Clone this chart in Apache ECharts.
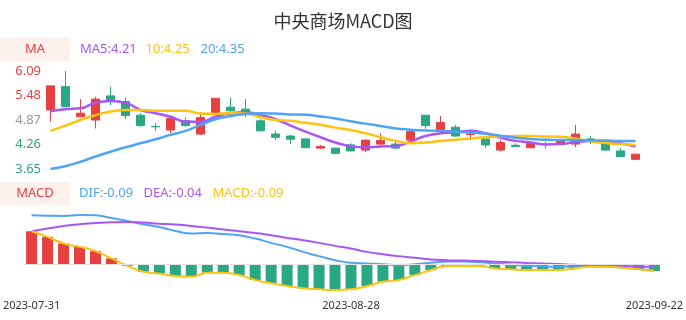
<!DOCTYPE html>
<html>
<head>
<meta charset="utf-8">
<script src="https://cdn.jsdelivr.net/npm/echarts@6/dist/echarts.min.js"></script>
<style>
html,body{margin:0;padding:0;background:#fff;}
#c{width:686px;height:320px;}
</style>
</head>
<body>
<div id="c"></div>
<script>
var dates = ['2023-07-31','2023-08-01','2023-08-02','2023-08-03','2023-08-04','2023-08-07','2023-08-08','2023-08-09','2023-08-10','2023-08-11',
 '2023-08-14','2023-08-15','2023-08-16','2023-08-17','2023-08-18','2023-08-21','2023-08-22','2023-08-23','2023-08-24','2023-08-25',
 '2023-08-28','2023-08-29','2023-08-30','2023-08-31','2023-09-01','2023-09-04','2023-09-05','2023-09-06','2023-09-07','2023-09-08',
 '2023-09-11','2023-09-12','2023-09-13','2023-09-14','2023-09-15','2023-09-18','2023-09-19','2023-09-20','2023-09-21','2023-09-22'];
var opens  = [5.12,5.70,4.95,4.87,5.47,5.33,4.99,4.71,4.62,4.85,4.52,5.04,5.19,5.14,4.85,4.52,4.47,4.40,4.17,4.17,4.25,4.12,4.27,4.27,4.37,4.99,4.62,4.69,4.51,4.40,4.12,4.24,4.18,4.27,4.29,4.27,4.40,4.27,4.10,3.89];
var closes = [5.72,5.20,5.04,5.39,5.33,4.98,4.73,4.70,4.91,4.73,4.93,5.41,5.10,5.04,4.60,4.44,4.39,4.18,4.21,4.04,4.10,4.37,4.36,4.17,4.58,4.73,4.81,4.47,4.52,4.25,4.31,4.21,4.30,4.26,4.35,4.52,4.35,4.12,3.96,4.02];
var lows   = [4.83,5.19,4.94,4.66,5.24,4.89,4.70,4.60,4.54,4.71,4.50,4.99,4.94,4.94,4.59,4.37,4.27,4.17,4.15,4.03,4.09,4.07,4.25,4.14,4.33,4.65,4.58,4.46,4.37,4.18,4.08,4.20,4.17,4.16,4.28,4.19,4.27,4.11,3.95,3.87];
var highs  = [5.72,6.09,5.39,5.45,5.70,5.43,5.04,4.79,4.99,4.93,5.06,5.41,5.43,5.39,4.89,4.60,4.50,4.40,4.25,4.17,4.29,4.38,4.54,4.33,4.58,4.99,4.97,4.74,4.60,4.40,4.37,4.29,4.31,4.33,4.38,4.75,4.47,4.27,4.17,4.03];
var ma5  = [5.09,5.14,5.16,5.30,5.34,5.30,5.12,5.04,4.95,4.83,4.82,4.95,5.04,5.06,4.99,4.89,4.73,4.58,4.44,4.31,4.22,4.19,4.21,4.22,4.33,4.47,4.54,4.56,4.60,4.54,4.43,4.35,4.31,4.26,4.27,4.32,4.35,4.33,4.29,4.21];
var ma10 = [4.60,4.73,4.87,4.99,5.08,5.12,5.12,5.10,5.10,5.10,5.03,5.02,5.04,5.03,4.94,4.87,4.85,4.80,4.75,4.68,4.62,4.54,4.44,4.35,4.29,4.31,4.35,4.38,4.41,4.44,4.46,4.47,4.47,4.46,4.45,4.41,4.34,4.30,4.27,4.25];
var ma20 = [3.65,3.72,3.83,3.96,4.08,4.19,4.29,4.39,4.50,4.60,4.75,4.89,4.97,5.02,5.04,5.03,5.01,5.00,4.96,4.91,4.84,4.78,4.72,4.66,4.63,4.61,4.60,4.58,4.56,4.53,4.48,4.43,4.40,4.38,4.37,4.37,4.36,4.36,4.35,4.35];
var dif  = [0.704,0.700,0.695,0.709,0.704,0.666,0.623,0.576,0.538,0.480,0.443,0.452,0.435,0.419,0.371,0.309,0.252,0.180,0.119,0.061,0.023,0.014,0.004,-0.010,0.004,0.023,0.043,0.043,0.035,0.012,-0.005,-0.018,-0.028,-0.035,-0.033,-0.027,-0.032,-0.046,-0.065,-0.086];
var dea  = [0.476,0.514,0.552,0.576,0.595,0.604,0.609,0.600,0.585,0.571,0.552,0.528,0.500,0.476,0.452,0.419,0.380,0.347,0.309,0.266,0.228,0.180,0.147,0.119,0.095,0.071,0.061,0.055,0.048,0.040,0.030,0.022,0.012,0.005,-0.005,-0.010,-0.015,-0.022,-0.030,-0.038];
var macd = [0.476,0.395,0.300,0.252,0.190,0.086,-0.020,-0.105,-0.130,-0.167,-0.176,-0.120,-0.120,-0.153,-0.224,-0.270,-0.310,-0.343,-0.357,-0.367,-0.357,-0.310,-0.248,-0.224,-0.153,-0.081,-0.024,-0.024,-0.024,-0.057,-0.071,-0.081,-0.081,-0.081,-0.057,-0.033,-0.033,-0.048,-0.071,-0.095];
var priceTicks = [3.65,4.26,4.87,5.48,6.09];
var dateLabelIdx = [0,20,39];
var maLegend = ['MA5:4.21','10:4.25','20:4.35'];
var macdLegend = ['DIF:-0.09','DEA:-0.04','MACD:-0.09'];

var RED = '#e84040', GREEN = '#2aa784', PURPLE = '#a855f7', YELLOW = '#ffc20e', BLUE = '#4ea4f5', BOXBG = '#fdf1ee';
var FONT = '"Noto Sans", sans-serif';

var chart = echarts.init(document.getElementById('c'), null, {renderer:'canvas'});
function txt(x, y, s, color, align) {
  return {type:'text', x:x, y:y, silent:true,
    style:{text:s, fill:color, font:'13px ' + FONT, textAlign:align || 'left', textVerticalAlign:'middle'}};
}
var option = {
  animation:false,
  backgroundColor:'#fff',
  textStyle:{fontFamily:FONT},
  title:{text:'中央商场MACD图', left:'center', top:7,
    textStyle:{fontSize:18, fontWeight:'normal', color:'#333', fontFamily:'"Noto Sans CJK SC", "Noto Sans", sans-serif'}},
  graphic:[
    {type:'rect', shape:{x:0,y:37,width:70,height:24}, style:{fill:BOXBG}, silent:true},
    txt(35,49,'MA',RED,'center'),
    txt(80,49,maLegend[0],PURPLE), txt(145.5,49,maLegend[1],YELLOW), txt(200.5,49,maLegend[2],BLUE),
    {type:'rect', shape:{x:0,y:182,width:70,height:23}, style:{fill:BOXBG}, silent:true},
    txt(35,193.5,'MACD',RED,'center'),
    txt(79,193.5,macdLegend[0],BLUE), txt(143.5,193.5,macdLegend[1],PURPLE), txt(212.5,193.5,macdLegend[2],YELLOW)
  ],
  grid:[
    {left:43, right:43, top:71, height:98},
    {left:20, right:19, top:215, height:75}
  ],
  xAxis:[
    {gridIndex:0, type:'category', data:dates, boundaryGap:true, show:false},
    {gridIndex:1, type:'category', data:dates, boundaryGap:true,
      axisLine:{show:false, onZero:false}, axisTick:{show:false}, splitLine:{show:false},
      axisLabel:{interval:function(i){return dateLabelIdx.indexOf(i) >= 0;}, fontSize:11, color:'#333', margin:10, hideOverlap:false}}
  ],
  yAxis:[
    {gridIndex:0, type:'value', min:priceTicks[0], max:priceTicks[priceTicks.length-1], show:false},
    {gridIndex:0, type:'value', position:'left', min:0, max:priceTicks.length-1, interval:1,
      axisLine:{show:false}, axisTick:{show:false}, splitLine:{show:false},
      axisLabel:{margin:2, fontSize:13,
        formatter:function(v){return priceTicks[Math.round(v)].toFixed(2);},
        color:function(v){var mid=(priceTicks.length-1)/2; v=+v; return v>mid?RED:(v<mid?GREEN:'#999');}}},
    {gridIndex:1, type:'value', min:'dataMin', max:'dataMax', show:false}
  ],
  series:[
    {type:'candlestick', xAxisIndex:0, yAxisIndex:0, barWidth:8,
      data:opens.map(function(o,i){return [o, closes[i], lows[i], highs[i]];}),
      itemStyle:{color:RED, color0:GREEN, borderColor:RED, borderColor0:GREEN, borderWidth:1}},
    {type:'line', xAxisIndex:0, yAxisIndex:0, data:ma5, smooth:true, symbol:'none', lineStyle:{color:PURPLE, width:2.5}},
    {type:'line', xAxisIndex:0, yAxisIndex:0, data:ma10, smooth:true, symbol:'none', lineStyle:{color:YELLOW, width:2.5}},
    {type:'line', xAxisIndex:0, yAxisIndex:0, data:ma20, smooth:true, symbol:'none', lineStyle:{color:BLUE, width:2.5}},
    {type:'bar', xAxisIndex:1, yAxisIndex:2, data:macd, barWidth:11,
      itemStyle:{color:function(p){return p.value>=0?RED:GREEN;}},
      markLine:{silent:true, symbol:'none', label:{show:false}, lineStyle:{color:'#e3e3e3', type:'solid', width:1},
        data:[{yAxis:0}]}},
    {type:'line', xAxisIndex:1, yAxisIndex:2, data:dif, smooth:true, symbol:'none', lineStyle:{color:BLUE, width:2}},
    {type:'line', xAxisIndex:1, yAxisIndex:2, data:dea, smooth:true, symbol:'none', lineStyle:{color:PURPLE, width:2}},
    {type:'line', xAxisIndex:1, yAxisIndex:2, data:macd, smooth:true, symbol:'none', lineStyle:{color:YELLOW, width:2}}
  ]
};
chart.setOption(option);
</script>
</body>
</html>
